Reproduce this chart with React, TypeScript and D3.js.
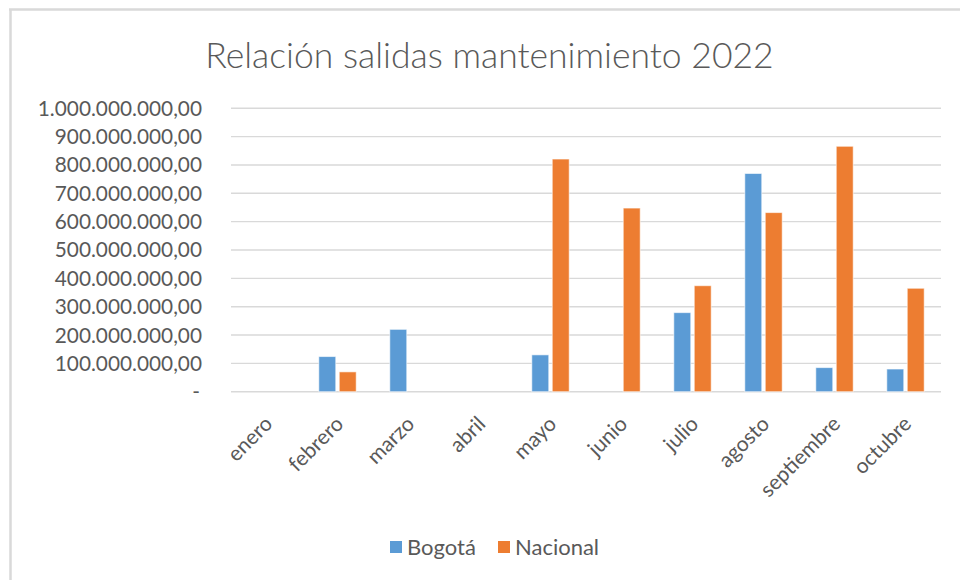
import React, { useEffect } from "react";
import * as d3 from "d3";

// chart data
const months = ["enero", "febrero", "marzo", "abril", "mayo", "junio", "julio", "agosto", "septiembre", "octubre"];
const bogota = [0, 124000000, 220000000, 0, 130000000, 0, 279000000, 770000000, 85000000, 80000000];
const nacional = [0, 70000000, 0, 0, 821000000, 648000000, 374000000, 632000000, 866000000, 365000000];
const seriesNames = ["Bogotá", "Nacional"];
const seriesColors = ["#5B9BD5", "#ED7D31"];
const yTicks = [0, 100000000, 200000000, 300000000, 400000000, 500000000, 600000000, 700000000, 800000000, 900000000, 1000000000];

const title = "Relación salidas mantenimiento 2022";
const textColor = "#595959";
const gridColor = "#d9d9d9";
const font = "Lato, 'Open Sans', sans-serif";

const esLocale = d3.formatLocale({ decimal: ",", thousands: ".", grouping: [3], currency: ["", ""] });
const fmt = esLocale.format(",.2f");

const App = () => {
  useEffect(() => {
    document.body.style.margin = "0";
  }, []);

  const width = 960;
  const height = 580;
  const plot = { left: 231, right: 941, top: 108.3, bottom: 391.7 };

  const x0 = d3.scaleBand<string>().domain(months).range([plot.left, plot.right]).padding(0);
  const groupW = 37.4;
  const x1 = d3.scaleBand<string>().domain(seriesNames).range([0, groupW]).paddingInner(0.17);
  const y = d3.scaleLinear().domain([0, 1000000000]).range([plot.bottom, plot.top]);

  const values = [bogota, nacional];

  return (
    <svg width={width} height={height} style={{ display: "block", background: "#fff" }} fontFamily={font}>
      {/* frame edges */}
      <line x1={9} x2={width} y1={9.5} y2={9.5} stroke={gridColor} strokeWidth={2.5} />
      <line x1={10.5} x2={10.5} y1={9} y2={height} stroke={gridColor} strokeWidth={2.5} />

      <text x={489.5} y={68} textAnchor="middle" fontSize={35.5} fontWeight={300} fill={textColor}>
        {title}
      </text>

      {/* gridlines and y labels */}
      {yTicks.map((t) => (
        <g key={t}>
          <line x1={plot.left} x2={plot.right} y1={y(t)} y2={y(t)} stroke={gridColor} strokeWidth={1.4} />
          <text x={t === 0 ? 200 : 202} y={y(t)} dy="0.36em" textAnchor="end" fontSize={20.8} fill={textColor}>
            {t === 0 ? "-" : fmt(t)}
          </text>
        </g>
      ))}

      {/* bars */}
      {months.map((m, i) => {
        const gx = (x0(m) as number) + (x0.bandwidth() - groupW) / 2;
        return (
          <g key={m} transform={`translate(${gx},0)`}>
            {seriesNames.map((s, k) => {
              const v = values[k][i];
              if (!v) return null;
              return (
                <rect
                  key={s}
                  x={x1(s)}
                  y={y(v)}
                  width={x1.bandwidth()}
                  height={y(0) - y(v)}
                  fill={seriesColors[k]}
                  stroke="#ffffff"
                  strokeOpacity={0.6}
                  strokeWidth={1}
                />
              );
            })}
          </g>
        );
      })}

      {/* x labels */}
      {months.map((m) => {
        const cx = (x0(m) as number) + x0.bandwidth() / 2;
        return (
          <text
            key={m}
            transform={`translate(${cx + 2},${420}) rotate(-45)`}
            dy="0.35em"
            textAnchor="end"
            fontSize={21}
            fill={textColor}
          >
            {m}
          </text>
        );
      })}

      {/* legend */}
      {seriesNames.map((s, k) => {
        const lx = [390, 498][k];
        return (
          <g key={s}>
            <rect x={lx} y={541} width={12} height={12} fill={seriesColors[k]} />
            <text x={lx + 17} y={554.5} fontSize={22} fill={textColor}>
              {s}
            </text>
          </g>
        );
      })}
    </svg>
  );
};

export default App;
